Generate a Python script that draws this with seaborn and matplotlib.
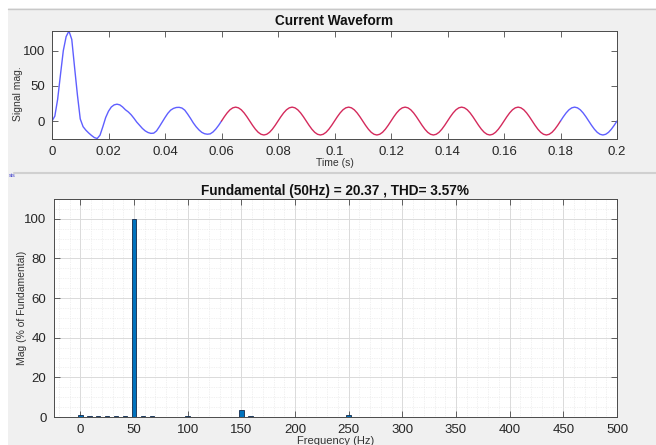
import numpy as np
import pandas as pd
import matplotlib
matplotlib.use("Agg")
import matplotlib.pyplot as plt
from matplotlib.ticker import MultipleLocator, FuncFormatter
from matplotlib.patches import Rectangle
from matplotlib.lines import Line2D
import seaborn as sns

# ---------------- data ----------------
# waveform, sampled every 1 ms from 0 to 0.2 s
time_ms = list(range(0, 201))
current = [
    0, 7, 31, 66, 100, 120, 128, 116, 76, 37,
    3, -8, -13, -17, -20.5, -23.5, -24.8, -20, -8, 5,
    14, 20, 23, 24, 23, 20, 16, 13, 9, 4,
    -1.5, -6, -10.5, -14, -16.3, -17.5, -17.2, -14, -8, -1.5,
    5, 11, 15.5, 18, 19.3, 19.5, 18.5, 15.5, 10, 4,
    -2.5, -8, -12.5, -16, -18, -18.7, -18.2, -15.5, -11.3, -6,
    0, 6.1, 11.6, 16.0, 18.8, 19.8, 18.8, 16.0, 11.6, 6.1,
    0, -6.1, -11.6, -16.0, -18.8, -19.8, -18.8, -16.0, -11.6, -6.1,
    0, 6.1, 11.6, 16.0, 18.8, 19.8, 18.8, 16.0, 11.6, 6.1,
    0, -6.1, -11.6, -16.0, -18.8, -19.8, -18.8, -16.0, -11.6, -6.1,
    0, 6.1, 11.6, 16.0, 18.8, 19.8, 18.8, 16.0, 11.6, 6.1,
    0, -6.1, -11.6, -16.0, -18.8, -19.8, -18.8, -16.0, -11.6, -6.1,
    0, 6.1, 11.6, 16.0, 18.8, 19.8, 18.8, 16.0, 11.6, 6.1,
    0, -6.1, -11.6, -16.0, -18.8, -19.8, -18.8, -16.0, -11.6, -6.1,
    0, 6.1, 11.6, 16.0, 18.8, 19.8, 18.8, 16.0, 11.6, 6.1,
    0, -6.1, -11.6, -16.0, -18.8, -19.8, -18.8, -16.0, -11.6, -6.1,
    0, 6.1, 11.6, 16.0, 18.8, 19.8, 18.8, 16.0, 11.6, 6.1,
    0, -6.1, -11.6, -16.0, -18.8, -19.8, -18.8, -16.0, -11.6, -6.1,
    0, 6.1, 11.6, 16.0, 18.8, 19.8, 18.8, 16.0, 11.6, 6.1,
    0, -6.1, -11.6, -16.0, -18.8, -19.8, -18.8, -16.0, -11.6, -6.1,
    0,
]
window_start_ms = 60
window_end_ms = 180

# FFT spectrum (bins of 8.33 Hz)
freq_hz = [0, 8.33, 16.67, 25, 33.33, 41.67, 50, 58.33, 66.67, 75,
           83.33, 91.67, 100, 108.33, 116.67, 125, 133.33, 141.67, 150,
           158.33, 166.67, 250]
mag_pct = [1.2, 0.35, 0.3, 0.3, 0.3, 0.4, 100, 0.4, 0.3, 0.25,
           0.25, 0.25, 0.5, 0.1, 0.1, 0.1, 0.1, 0.1, 3.3,
           0.3, 0.25, 0.9]

time_ticks = [0, 0.02, 0.04, 0.06, 0.08, 0.1, 0.12, 0.14, 0.16, 0.18, 0.2]
signal_ticks = [0, 50, 100]
freq_ticks = [0, 50, 100, 150, 200, 250, 300, 350, 400, 450, 500]
mag_ticks = [0, 20, 40, 60, 80, 100]

title_top = "Current Waveform"
title_bottom = "Fundamental (50Hz) = 20.37 , THD= 3.57%"

# ---------------- style ----------------
sns.set_style("ticks")
plt.rcParams["font.family"] = ["Liberation Sans", "DejaVu Sans"]
plt.rcParams["axes.edgecolor"] = "#4a4a4a"
plt.rcParams["axes.linewidth"] = 0.7
plt.rcParams["xtick.color"] = "#4a4a4a"
plt.rcParams["ytick.color"] = "#4a4a4a"
plt.rcParams["xtick.labelcolor"] = "#262626"
plt.rcParams["ytick.labelcolor"] = "#262626"

BG = "#f0f0f0"
BLUE = "#5f5fff"
RED = "#d42a5c"
BAR = "#0072bd"

W, H = 656, 445
fig = plt.figure(figsize=(W / 100, H / 100), dpi=100, facecolor=BG)

# window decorations
fig.patches.append(Rectangle((0, 0), 8 / W, 1, transform=fig.transFigure,
                             facecolor="white", edgecolor="none", zorder=0))
fig.patches.append(Rectangle((0, 1 - 8 / H), 1, 8 / H, transform=fig.transFigure,
                             facecolor="white", edgecolor="none", zorder=0))
fig.lines.append(Line2D([8 / W, 1], [1 - 9 / H, 1 - 9 / H], transform=fig.transFigure,
                        color="#c8c8c8", lw=1))
fig.lines.append(Line2D([14 / W, 1], [1 - 173 / H, 1 - 173 / H], transform=fig.transFigure,
                        color="#d0d0d0", lw=1.5))
fig.text(9 / W, 1 - 175 / H, "sis", fontsize=4, color="#3c3cc8", va="center", ha="left")


def px_axes(left, top, right, bottom):
    return fig.add_axes([left / W, 1 - bottom / H, (right - left) / W, (bottom - top) / H])


def style_ticks(ax):
    ax.tick_params(which="major", direction="in", length=4, width=0.6,
                   top=True, right=True, labelsize=9.5, pad=5)
    ax.tick_params(which="minor", length=0, top=True, right=True)
    for s in ax.spines.values():
        s.set_visible(True)


# ---------------- top: waveform ----------------
ax1 = px_axes(52, 31, 617, 139)
ax1.set_facecolor("white")
t_s = [m / 1000 for m in time_ms]
df = pd.DataFrame({"t": t_s, "i": current, "ms": time_ms})
parts = [
    (df[df.ms <= window_start_ms], BLUE),
    (df[(df.ms >= window_start_ms) & (df.ms <= window_end_ms)], RED),
    (df[df.ms >= window_end_ms], BLUE),
]
for part, c in parts:
    sns.lineplot(data=part, x="t", y="i", ax=ax1, color=c, lw=1.0,
                 estimator=None, sort=False)
ax1.set_xlim(0, 0.2)
ax1.set_ylim(-25.5, 128)
ax1.set_xticks(time_ticks)
ax1.xaxis.set_major_formatter(FuncFormatter(lambda v, p: f"{v:g}"))
ax1.set_yticks(signal_ticks)
style_ticks(ax1)
ax1.set_title(title_top, fontsize=9.8, fontweight="bold", pad=4, color="#111111")
ax1.set_xlabel("Time (s)", fontsize=7.5, labelpad=0, color="#333333")
ax1.set_ylabel("Signal mag.", fontsize=7.5, color="#333333")
ax1.yaxis.set_label_coords(-29 / 565, 0.42)

# ---------------- bottom: spectrum ----------------
ax2 = px_axes(53.5, 199, 617, 417)
ax2.set_facecolor("white")
spec = pd.DataFrame({"f": freq_hz, "m": mag_pct})
sns.barplot(data=spec, x="f", y="m", ax=ax2, native_scale=True, width=0.5,
            color=BAR, edgecolor="#13294b", linewidth=0.6, saturation=1, zorder=3)
ax2.set_xlim(-25, 500)
ax2.set_ylim(0, 110)
ax2.set_xticks(freq_ticks)
ax2.set_xticklabels([str(v) for v in freq_ticks])
ax2.set_yticks(mag_ticks)
ax2.xaxis.set_minor_locator(MultipleLocator(10))
ax2.yaxis.set_minor_locator(MultipleLocator(5))
ax2.grid(which="major", color="#dadada", lw=0.7, ls="-", zorder=0)
ax2.grid(which="minor", color="#e4e4e4", lw=0.5, ls=(0, (1, 1.5)), zorder=0)
ax2.set_axisbelow(True)
style_ticks(ax2)
ax2.set_title(title_bottom, fontsize=9.8, fontweight="bold", pad=3, color="#111111")
ax2.set_xlabel("Frequency (Hz)", fontsize=8, labelpad=0, color="#333333")
ax2.set_ylabel("Mag (% of Fundamental)", fontsize=7.5, color="#333333")
ax2.yaxis.set_label_coords(-26 / 563.5, 0.5)

fig.savefig("out.png", dpi=100, facecolor=BG)
